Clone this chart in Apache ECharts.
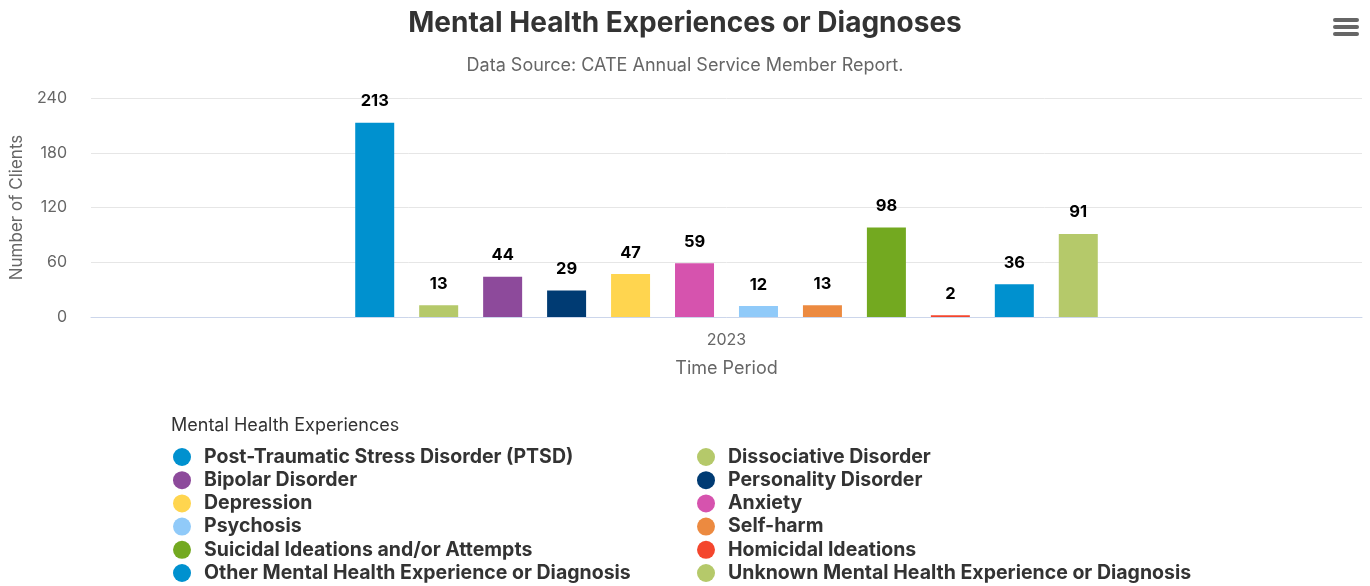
<!DOCTYPE html>
<html><head><meta charset="utf-8">
<script src="https://cdn.jsdelivr.net/npm/echarts@6/dist/echarts.min.js"></script>
<style>html,body{margin:0;padding:0;background:#fff}#c{width:1370px;height:586px}</style>
</head><body><div id="c"></div>
<script>
var categories = ['2023'];
var seriesNames = [
  'Post-Traumatic Stress Disorder (PTSD)',
  'Dissociative Disorder',
  'Bipolar Disorder',
  'Personality Disorder',
  'Depression',
  'Anxiety',
  'Psychosis',
  'Self-harm',
  'Suicidal Ideations and/or Attempts',
  'Homicidal Ideations',
  'Other Mental Health Experience or Diagnosis',
  'Unknown Mental Health Experience or Diagnosis'
];
var seriesValues = [213, 13, 44, 29, 47, 59, 12, 13, 98, 2, 36, 91];
var seriesColors = ['#0091cf','#b5c96a','#8d4a9b','#003b73','#ffd54f','#d653ae','#90caf9','#ec8a40','#73a920','#f4462d','#0091cf','#b5c96a'];
var yTicks = [0, 60, 120, 180, 240];

var FONT = 'Inter, "Noto Sans", sans-serif';
var chart = echarts.init(document.getElementById('c'));

var series = seriesNames.map(function (n, i) {
  return {
    type: 'bar', name: n, data: [seriesValues[i]],
    barWidth: 39, barGap: '64%',
    itemStyle: { color: seriesColors[i] },
    label: { show: true, position: 'top', distance: 13, color: '#000', fontWeight: 'bold', fontSize: 16.5, fontFamily: FONT }
  };
});

var leftNames = seriesNames.filter(function (_, i) { return i % 2 === 0; });
var rightNames = seriesNames.filter(function (_, i) { return i % 2 === 1; });
function legend(names, left) {
  return {
    data: names, orient: 'vertical', left: left, top: 447, height: 200, padding: 0,
    icon: 'circle', itemWidth: 18, itemHeight: 18, itemGap: 3.2,
    textStyle: { fontFamily: FONT, fontWeight: 'bold', fontSize: 19.5, lineHeight: 18, color: '#333', padding: [0, 0, 0, 8] },
    selectedMode: false
  };
}

chart.setOption({
  animation: false,
  textStyle: { fontFamily: FONT },
  title: [
    { text: 'Mental Health Experiences or Diagnoses', left: 'center', top: 5,
      textStyle: { fontFamily: FONT, fontWeight: 'bold', fontSize: 28, color: '#333' } },
    { text: 'Data Source: CATE Annual Service Member Report.', left: 'center', top: 52,
      textStyle: { fontFamily: FONT, fontWeight: 'normal', fontSize: 18, color: '#666' } },
    { text: 'Mental Health Experiences', left: 166, top: 412,
      textStyle: { fontFamily: FONT, fontWeight: 'normal', fontSize: 18, color: '#333' } }
  ],
  legend: [legend(leftNames, 173), legend(rightNames, 697)],
  grid: { left: 88, right: 8, top: 98, height: 219 },
  xAxis: {
    type: 'category', data: categories, z: 5,
    axisLine: { lineStyle: { color: '#ccd6eb' } }, axisTick: { show: false },
    axisLabel: { color: '#666', fontSize: 16, margin: 15, fontFamily: FONT },
    name: 'Time Period', nameLocation: 'middle', nameGap: 43,
    nameTextStyle: { color: '#666', fontSize: 18, fontFamily: FONT }
  },
  yAxis: {
    type: 'value', min: 0, max: 240, interval: 60,
    axisLabel: { color: '#666', fontSize: 16, margin: 24, fontFamily: FONT,
      formatter: function (v) { return yTicks.indexOf(v) >= 0 ? String(v) : ''; } },
    splitLine: { lineStyle: { color: '#e6e6e6' } },
    name: 'Number of Clients', nameLocation: 'middle', nameGap: 66, nameRotate: 90,
    nameTextStyle: { color: '#666', fontSize: 17, fontFamily: FONT }
  },
  graphic: [
    { type: 'rect', left: 1333, top: 18, shape: { width: 26, height: 4, r: 2 }, style: { fill: '#666' } },
    { type: 'rect', left: 1333, top: 25, shape: { width: 26, height: 4, r: 2 }, style: { fill: '#666' } },
    { type: 'rect', left: 1333, top: 32, shape: { width: 26, height: 4, r: 2 }, style: { fill: '#666' } }
  ],
  series: series
});
</script></body></html>
